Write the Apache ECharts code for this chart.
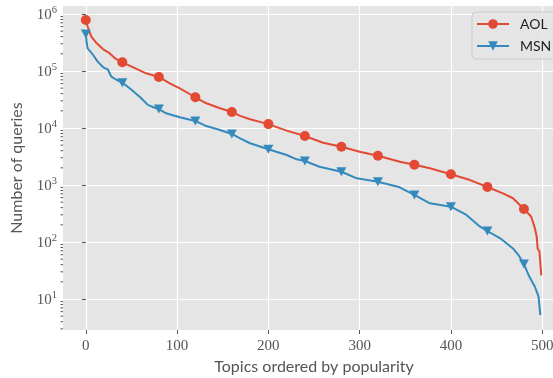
<!DOCTYPE html>
<html>
<head>
<meta charset="utf-8">
<script src="https://cdn.jsdelivr.net/npm/echarts@6/dist/echarts.min.js"></script>
<style>
html,body{margin:0;padding:0;background:#fff;}
#chart{width:553px;height:378px;}
</style>
</head>
<body>
<div id="chart"></div>
<script>
// ---- data ----
const seriesNames = ['AOL', 'MSN'];
const aolX = [0, 2, 6, 12, 19, 26, 32, 40, 52, 66, 80, 92, 103, 120, 132, 147, 160, 169, 180, 200, 220, 240, 260, 280, 300, 320, 344, 360, 377, 400, 421, 440, 457, 468, 480, 488, 492, 494, 495, 497, 499];
const aolY = [785000, 600000, 400000, 306000, 240000, 205000, 167000, 142000, 116000, 91000, 78500, 60800, 49700, 34600, 27100, 22200, 19100, 16300, 14200, 11700, 8980, 7240, 5520, 4700, 3840, 3270, 2560, 2270, 1960, 1540, 1220, 922, 714, 585, 379, 278, 174, 124, 77, 68, 26];
const msnX = [0, 1, 2, 8, 13, 19, 24, 28, 34, 40, 48, 59, 68, 74, 80, 88, 103, 120, 132, 147, 160, 169, 180, 200, 220, 231, 240, 256, 280, 297, 320, 344, 348, 360, 377, 400, 417, 432, 440, 454, 468, 474, 480, 486, 492, 496, 498];
const msnY = [446000, 306000, 250000, 191000, 146000, 116000, 107000, 79400, 69500, 62400, 49700, 35400, 25400, 23100, 21500, 18100, 15400, 13300, 10800, 9230, 7850, 6590, 5400, 4230, 3360, 2820, 2640, 2090, 1710, 1310, 1140, 912, 841, 668, 478, 417, 298, 186, 156, 116, 77, 59, 41, 24.5, 16.4, 11, 5.2];
const markEvery = 40;
const xTicks = [0, 100, 200, 300, 400, 500];
const yDecades = [10, 100, 1000, 10000, 100000, 1000000];
const yMinorTicks = [3,4,5,6,7,8,9, 20,30,40,50,60,70,80,90, 200,300,400,500,600,700,800,900,
  2000,3000,4000,5000,6000,7000,8000,9000, 20000,30000,40000,50000,60000,70000,80000,90000,
  200000,300000,400000,500000,600000,700000,800000,900000];
const xTitle = 'Topics ordered by popularity';
const yTitle = 'Number of queries';

// ---- styling ----
const RED = '#E24A33', BLUE = '#348ABD';
const tickFont = 'Liberation Serif';
const sansFont = 'Lato';

function build(xs, ys) {
  return xs.map((x, i) => (x % markEvery === 0) ? [x, ys[i]] : { value: [x, ys[i]], symbol: 'none' });
}

const chart = echarts.init(document.getElementById('chart'), null, {renderer: 'canvas'});
chart.setOption({
  animation: false,
  backgroundColor: '#ffffff',
  grid: {
    left: 63, top: 6, width: 502, height: 324,
    outerBoundsMode: 'none', containLabel: false,
    show: true, backgroundColor: '#E5E5E5', borderWidth: 0
  },
  legend: {
    data: seriesNames,
    orient: 'vertical',
    left: 472, top: 12,
    itemWidth: 32, itemHeight: 12, itemGap: 8,
    padding: [5, 12, 6, 4],
    backgroundColor: 'rgba(229,229,229,0.8)',
    borderColor: '#cccccc', borderWidth: 1, borderRadius: 4,
    textStyle: { fontFamily: sansFont, fontSize: 14, color: '#222', padding: [0, 0, 0, 6] }
  },
  xAxis: {
    type: 'value', min: -25, max: 525,
    name: xTitle, nameLocation: 'middle', nameGap: 28,
    nameTextStyle: { fontFamily: sansFont, fontSize: 16, color: '#555' },
    axisLine: { show: false },
    axisTick: { show: true, length: 4, customValues: xTicks, lineStyle: { color: '#555', width: 1 } },
    axisLabel: {
      margin: 9, fontFamily: tickFont, fontSize: 15, color: '#555',
      customValues: xTicks,
      formatter: v => String(v)
    },
    splitLine: { show: true, lineStyle: { color: '#ffffff', width: 1.2 } }
  },
  yAxis: {
    type: 'log', logBase: 10, min: 2.86, max: 1.38e6,
    name: yTitle, nameLocation: 'middle', nameGap: 38,
    nameTextStyle: { fontFamily: sansFont, fontSize: 16, color: '#555' },
    axisLine: { show: false },
    axisTick: { show: true, length: 4, customValues: yDecades, lineStyle: { color: '#555', width: 1 } },
    axisLabel: {
      margin: 6, color: '#555',
      customValues: yDecades,
      formatter: v => '{b|10}{s|' + Math.round(Math.log10(v)) + '}',
      rich: {
        b: { fontFamily: tickFont, fontSize: 15, color: '#555', lineHeight: 18, verticalAlign: 'bottom' },
        s: { fontFamily: tickFont, fontSize: 10.5, color: '#555', lineHeight: 18, verticalAlign: 'top' }
      }
    },
    splitLine: { show: true, lineStyle: { color: '#ffffff', width: 1.2 } }
  },
  series: [
    {
      name: seriesNames[0], type: 'line', data: build(aolX, aolY),
      symbol: 'circle', symbolSize: 10, showAllSymbol: true,
      lineStyle: { color: RED, width: 2 }, itemStyle: { color: RED },
      z: 3
    },
    {
      name: seriesNames[1], type: 'line', data: build(msnX, msnY),
      symbol: 'path://M0,0 L10,0 L5,9 Z', symbolSize: [10, 9], showAllSymbol: true,
      lineStyle: { color: BLUE, width: 2 }, itemStyle: { color: BLUE },
      z: 4
    },
    {
      name: 'minorTicks', type: 'custom', silent: true, clip: false,
      data: yMinorTicks.map(v => [0, v]),
      renderItem: (params, api) => {
        const p = api.coord([api.value(0), api.value(1)]);
        const x0 = params.coordSys.x;
        return { type: 'line', shape: { x1: x0 - 2.5, y1: p[1], x2: x0, y2: p[1] },
                 style: { stroke: '#555', lineWidth: 1 } };
      },
      z: 1
    }
  ]
});
</script>
</body>
</html>
